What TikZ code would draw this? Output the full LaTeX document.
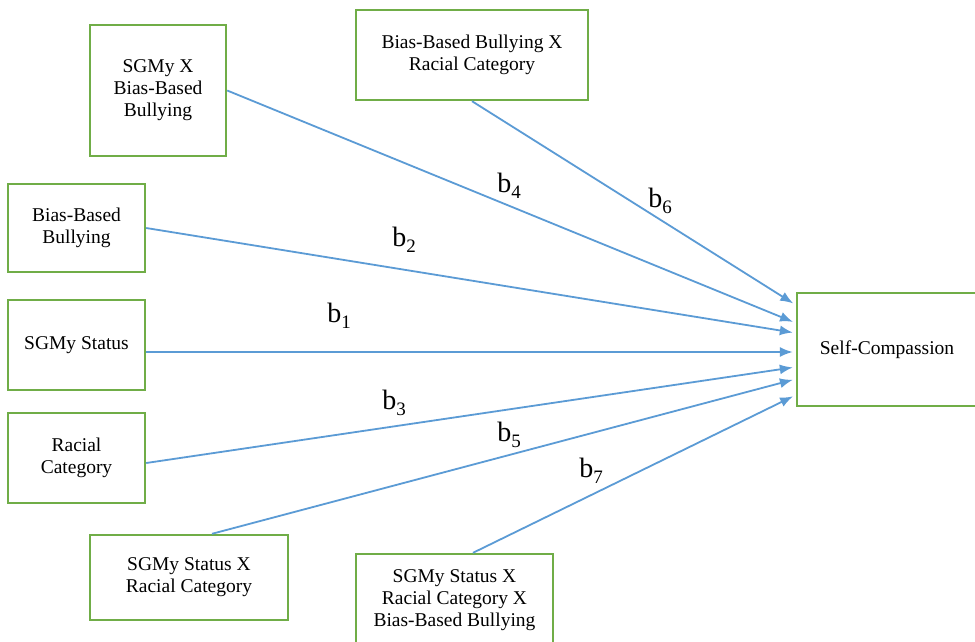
\documentclass[tikz,border=0pt]{standalone}
\usepackage{fontspec}
\setmainfont{Liberation Serif}
\usetikzlibrary{arrows.meta}
\definecolor{boxgreen}{RGB}{112,173,71}
\definecolor{lineblue}{RGB}{91,155,213}
\newcommand{\bsub}[1]{b\raisebox{-6pt}{\fontsize{19}{19}\selectfont #1}}
\begin{document}
\begin{tikzpicture}[x=1pt,y=-1pt,
  varbox/.style={draw=boxgreen, line width=2.4pt, fill=white, inner sep=0pt,
    align=center, font=\fontsize{19.5}{22}\selectfont},
  path/.style={draw=lineblue, line width=1.8pt, shorten >=3pt,
    -{Latex[length=13pt,width=10pt]}},
  coef/.style={inner sep=0pt, font=\fontsize{28}{28}\selectfont}]
\useasboundingbox (0,0) rectangle (975,641);
\clip (0,0) rectangle (975,641);
\fill[white] (0,0) rectangle (975,641);
% nodes
\node[varbox, minimum width=136pt, minimum height=131pt] (n1) at (158,90.5) {SGMy X\\Bias-Based\\Bullying};
\node[varbox, minimum width=232pt, minimum height=90pt] (n2) at (472,55) {Bias-Based Bullying X\\Racial Category};
\node[varbox, minimum width=137pt, minimum height=88pt] (n3) at (76.5,228) {Bias-Based\\Bullying};
\node[varbox, minimum width=137pt, minimum height=90pt] (n4) at (76.5,345) {SGMy Status};
\node[varbox, minimum width=137pt, minimum height=90pt] (n5) at (76.5,458) {Racial\\Category};
\node[varbox, minimum width=198pt, minimum height=85pt] (n6) at (189,577.5) {SGMy Status X\\Racial Category};
\node[varbox, minimum width=197pt, minimum height=92pt] (n7) at (454.5,600) {SGMy Status X\\Racial Category X\\Bias-Based Bullying};
\node[varbox, minimum width=180pt, minimum height=113pt] (n8) at (887,349.5) {Self-Compassion};
% connectors
\draw[path] (n1.east) -- ([yshift=26.5pt]n8.west);
\draw[path] (n2.south) -- ([yshift=44.5pt]n8.west);
\draw[path] (n3.east) -- ([yshift=16.5pt]n8.west);
\draw[path] ([yshift=-7pt]n4.east) -- ([yshift=-2.5pt]n8.west);
\draw[path] ([yshift=-5pt]n5.east) -- ([yshift=-17.5pt]n8.west);
\draw[path] ([xshift=23pt]n6.north) -- ([yshift=-29.5pt]n8.west);
\draw[path] ([xshift=18.5pt]n7.north) -- ([yshift=-45.5pt]n8.west);
% coefficient labels
\node[coef] (l1) at (339,316) {\bsub{1}};
\node[coef] (l2) at (404,240) {\bsub{2}};
\node[coef] (l3) at (394,403) {\bsub{3}};
\node[coef] (l4) at (509,186) {\bsub{4}};
\node[coef] (l5) at (509,435) {\bsub{5}};
\node[coef] (l6) at (660,201) {\bsub{6}};
\node[coef] (l7) at (591,471) {\bsub{7}};
\end{tikzpicture}
\end{document}
